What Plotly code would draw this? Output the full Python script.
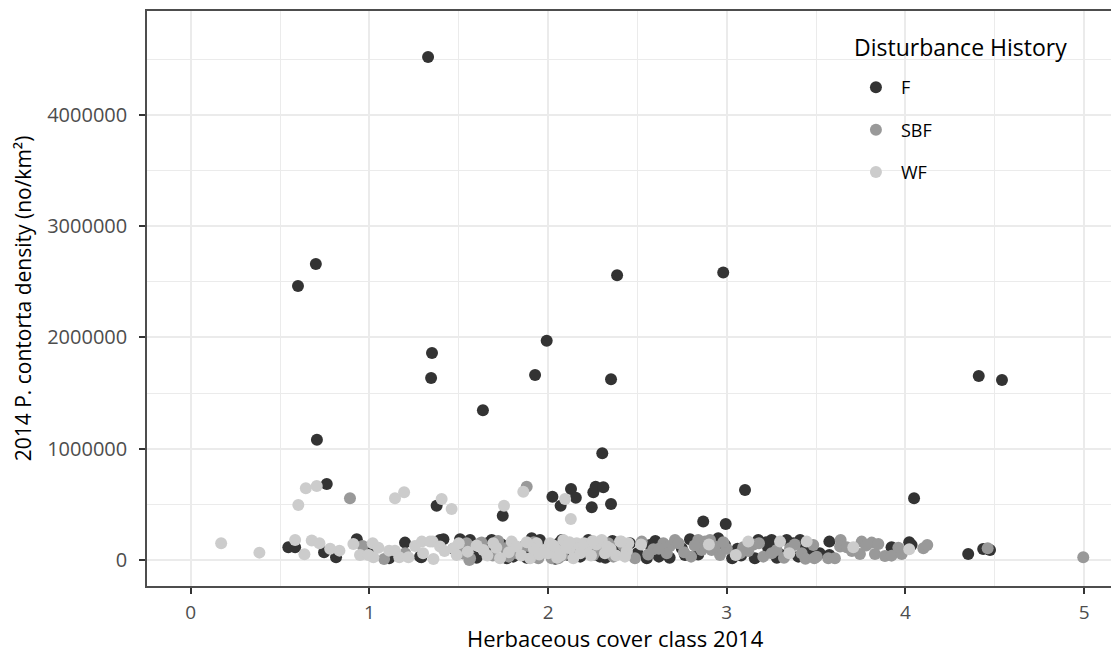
import plotly.graph_objects as go

# ---- data (x: herbaceous cover class, jittered; y: density no/km²) ----
f_x = [1.328, 0.600, 0.700, 1.350, 1.345, 0.706, 1.992, 1.927, 1.635, 2.386, 2.352, 2.980,
       4.410, 4.540, 2.303, 3.102, 4.048, 0.761, 1.376, 1.746, 2.024, 2.070, 2.128, 2.155,
       2.244, 2.253, 2.266, 2.309, 2.352, 2.868, 2.994,
       0.546, 0.584, 0.746, 0.813, 0.929, 1.110, 1.199, 1.283, 1.290, 1.395,
       1.414, 1.507, 1.563, 1.665, 1.684, 1.712, 1.805, 1.768, 1.908, 1.954, 1.861, 2.113,
       2.076, 2.225, 2.234, 2.290, 2.383,
       1.470, 1.600, 1.740, 1.830, 2.040, 2.180, 2.320, 2.420, 2.500,
       1.520, 1.580, 1.660, 1.880, 1.970, 2.060, 2.150, 2.280, 2.360, 0.980, 1.020,
       2.458, 2.570, 2.552, 2.748, 2.794, 2.766, 2.952, 2.990, 3.030, 3.157, 3.176, 3.251,
       3.232, 3.335, 3.372, 3.400, 3.410,
       2.620, 2.900, 3.060, 3.300, 3.460,
       2.600, 2.680, 2.840, 2.920, 3.080, 3.220, 3.280, 3.440, 3.520,
       3.574, 3.574, 3.922, 4.021, 4.034, 4.351, 4.435, 4.473]
f_y = [4521000, 2463000, 2660000, 1860000, 1636000, 1080000, 1971000, 1663000, 1345000, 2560000,
       1625000, 2585000, 1654000, 1618000, 959000, 629000, 555000, 683000, 488000, 398000,
       569000, 488000, 638000, 560000, 474000, 608000, 659000, 653000, 503000, 345000, 324000,
       114000, 114000, 69000, 24000, 186000, 15000, 156000, 30000, 24000, 180000,
       186000, 186000, 180000, 60000, 180000, 120000, 30000, 15000, 195000, 180000, 60000, 45000,
       180000, 180000, 60000, 30000, 120000,
       100000, 20000, 140000, 90000, 10000, 30000, 20000, 90000, 60000,
       60000, 120000, 150000, 20000, 110000, 150000, 80000, 130000, 170000, 60000, 120000,
       150000, 135000, 15000, 105000, 186000, 45000, 195000, 135000, 15000, 15000, 180000, 180000,
       105000, 180000, 150000, 30000, 180000,
       30000, 120000, 100000, 50000, 90000,
       170000, 20000, 50000, 160000, 40000, 160000, 20000, 120000, 60000,
       165000, 45000, 114000, 159000, 135000, 54000, 99000, 90000]

sbf_x = [0.891, 1.880, 0.962, 1.082, 1.503, 1.559, 1.628, 1.544,
         1.544, 1.563, 1.526, 1.619, 1.759, 1.824, 1.861, 1.899, 1.945, 2.020, 2.094, 2.057,
         2.188, 2.253, 2.337, 2.365, 2.439, 2.272,
         1.690, 1.980, 2.150, 2.230,
         1.200, 1.640, 1.720, 1.780, 1.920, 2.080, 2.200, 2.300, 2.420,
         2.440, 2.486, 2.524, 2.589, 2.645, 2.682, 2.710, 2.664, 2.840, 2.878, 2.906, 2.859,
         2.915, 2.962, 2.934, 3.075, 3.092, 3.204, 3.279, 3.251, 3.354, 3.419, 3.484, 3.503,
         2.560, 2.730, 2.800, 3.000, 3.150, 3.320,
         2.620, 2.760, 2.820, 2.980, 3.120, 3.180, 3.380, 3.440,
         3.490, 3.568, 3.605, 3.637, 3.634, 3.671, 3.745, 3.755, 3.811, 3.848, 3.829, 3.885,
         3.700, 3.780, 3.960,
         3.922, 3.979, 4.100, 4.122, 4.460, 4.995]
sbf_y = [555000, 659000, 126000, 9000, 105000, 0, 156000, 150000,
         135000, 15000, 60000, 150000, 105000, 60000, 120000, 120000, 15000, 15000, 120000, 15000,
         120000, 45000, 150000, 30000, 75000, 90000,
         40000, 70000, 90000, 150000,
         60000, 90000, 170000, 30000, 160000, 40000, 100000, 170000, 130000,
         66000, 15000, 165000, 96000, 150000, 126000, 180000, 60000, 180000, 165000, 180000, 90000,
         90000, 45000, 120000, 60000, 114000, 30000, 90000, 60000, 105000, 60000, 135000, 30000,
         50000, 150000, 30000, 100000, 140000, 20000,
         100000, 70000, 130000, 160000, 80000, 150000, 140000, 10000,
         15000, 15000, 15000, 180000, 120000, 114000, 54000, 165000, 156000, 144000, 54000, 36000,
         80000, 130000, 110000,
         39000, 54000, 105000, 135000, 105000, 24000]

wf_x = [0.644, 0.705, 0.602, 1.143, 1.194, 1.404, 1.460, 1.753, 1.861, 2.095, 2.127,
        0.170, 0.384, 0.584, 0.636, 0.677, 0.720, 0.832, 0.910, 1.018, 0.947, 0.994, 1.022,
        1.110, 1.143, 1.167, 1.218, 1.255, 1.293, 1.358, 1.354,
        0.780, 1.050, 1.300,
        1.339, 1.395, 1.470, 1.488, 1.637, 1.731, 1.693, 1.796, 1.824, 1.899, 1.936, 1.973,
        2.010, 2.048, 2.085, 2.122, 2.160, 2.141, 2.216, 2.300, 2.402, 2.449, 2.318,
        1.550, 1.600, 1.780, 1.850, 1.920, 2.000, 2.030, 2.070, 2.120, 2.180, 2.200, 2.270,
        2.350, 2.380,
        1.420, 1.500, 1.660, 1.710, 1.880, 1.950, 2.050, 2.100, 2.240, 2.250, 2.330, 2.440,
        2.520,
        2.410, 2.430, 2.900, 3.050, 3.120, 3.298, 3.350, 3.447, 3.708, 4.021]
wf_y = [644000, 665000, 494000, 555000, 608000, 548000, 458000, 488000, 614000, 548000, 369000,
        150000, 66000, 180000, 51000, 174000, 150000, 84000, 144000, 150000, 45000, 45000, 24000,
        84000, 84000, 24000, 24000, 126000, 165000, 9000, 165000,
        100000, 110000, 60000,
        165000, 120000, 105000, 45000, 90000, 15000, 150000, 165000, 120000, 15000, 150000, 90000,
        150000, 90000, 180000, 105000, 150000, 15000, 120000, 180000, 165000, 150000, 60000,
        75000, 130000, 70000, 40000, 100000, 60000, 130000, 40000, 160000, 60000, 150000, 140000,
        100000, 40000,
        80000, 150000, 40000, 110000, 160000, 50000, 20000, 110000, 40000, 170000, 120000, 80000,
        140000,
        165000, 30000, 140000, 45000, 165000, 165000, 60000, 165000, 114000, 96000]

series = [("F", f_x, f_y, "#333333"),
          ("SBF", sbf_x, sbf_y, "#999999"),
          ("WF", wf_x, wf_y, "#CCCCCC")]

FONT = "Open Sans"
legend_title = "Disturbance History"
x_title = "Herbaceous cover class 2014"
y_title = "2014 P. contorta density (no/km²)"

fig = go.Figure()
for name, xs, ys, col in series:
    fig.add_trace(go.Scatter(
        x=xs, y=ys, mode="markers", name=name, legendgroup=name,
        marker=dict(color=col, size=12, line=dict(width=0)),
    ))

grid = "#EBEBEB"
# page body has an 8px margin; plot area in figure coords: x 139..1111, y 3..578
fig.update_layout(
    width=1111, height=645,
    margin=dict(l=139, r=0, t=3, b=67, autoexpand=False),
    paper_bgcolor="white", plot_bgcolor="white",
    font=dict(family=FONT, color="#000000"),
    showlegend=True,
    legend=dict(
        font=dict(size=18, color="#000000", family=FONT),
        x=0.7242, xanchor="left", y=0.899, yanchor="top",
        bgcolor="rgba(0,0,0,0)", borderwidth=0,
        tracegroupgap=16, itemwidth=40,
    ),
    xaxis=dict(
        range=[-0.245, 5.195], tick0=0, dtick=1, automargin=False,
        showline=True, linecolor="#4d4d4d", linewidth=1.5, mirror=True,
        ticks="outside", ticklen=6, tickwidth=1.5, tickcolor="#333333",
        ticklabelstandoff=2,
        tickfont=dict(size=19, color="#4D4D4D", family=FONT),
        showgrid=True, gridcolor=grid, gridwidth=1.5, zeroline=False,
        minor=dict(dtick=0.5, tick0=0, showgrid=True, gridcolor=grid, gridwidth=0.8, ticks=""),
    ),
    yaxis=dict(
        range=[-234000, 4935000], tick0=0, dtick=1000000, tickformat="d", automargin=False,
        showline=True, linecolor="#4d4d4d", linewidth=1.5, mirror=False,
        ticks="outside", ticklen=6, tickwidth=1.5, tickcolor="#333333",
        ticklabelstandoff=8,
        tickfont=dict(size=20, color="#4D4D4D", family=FONT),
        showgrid=True, gridcolor=grid, gridwidth=1.5, zeroline=False,
        minor=dict(dtick=500000, tick0=0, showgrid=True, gridcolor=grid, gridwidth=0.8, ticks=""),
        title=dict(text=y_title, font=dict(size=21, color="#000000", family=FONT),
                   standoff=10),
    ),
    shapes=[dict(type="rect", xref="paper", yref="paper", x0=0.7130, x1=0.9835, y0=0.6626, y1=0.9826,
                 fillcolor="white", line=dict(width=0), layer="between")],
    annotations=[
        dict(text=legend_title, xref="paper", yref="paper", x=0.7253, y=0.9374,
             xanchor="left", yanchor="middle", showarrow=False,
             font=dict(size=23, color="#000000", family=FONT)),
        dict(text=x_title, xref="paper", yref="paper", x=0.4825, y=-0.0905,
             xanchor="center", yanchor="middle", showarrow=False,
             font=dict(size=22, color="#000000", family=FONT)),
    ],
)

fig.write_html("out.html")
